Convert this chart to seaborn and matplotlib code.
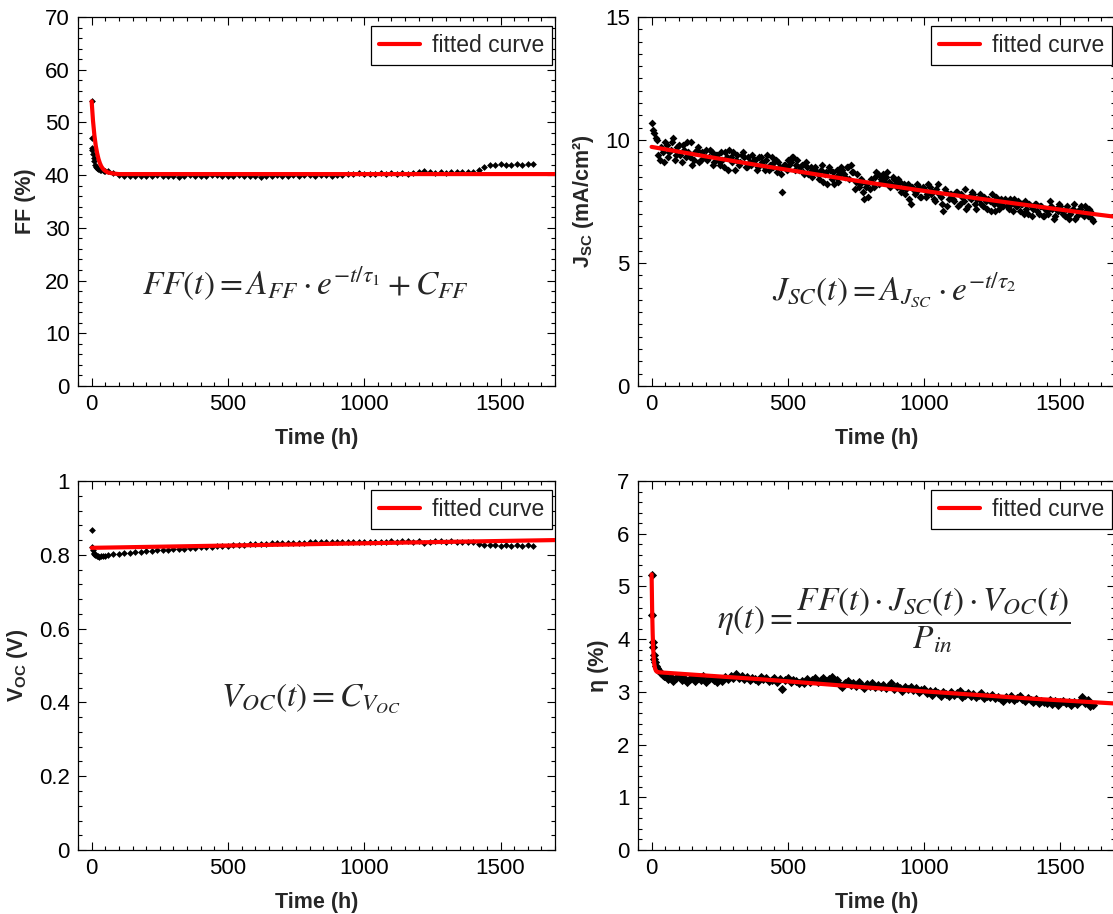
import matplotlib
matplotlib.use('Agg')
import matplotlib.pyplot as plt
from matplotlib.ticker import MultipleLocator, FormatStrFormatter
import pandas as pd
import seaborn as sns

sns.set_theme(style='white')
plt.rcParams['font.family'] = ['Liberation Sans', 'DejaVu Sans']
plt.rcParams['mathtext.fontset'] = 'custom'
plt.rcParams['mathtext.rm'] = 'Liberation Sans'
plt.rcParams['mathtext.bf'] = 'Liberation Sans:bold'
plt.rcParams['mathtext.it'] = 'Liberation Sans:italic'

# ---------------- data ----------------
# FF (%)
ff_hours = [0, 1, 2, 3, 5, 7, 10, 13, 16, 20, 25, 30, 35, 40, 45, 50] + list(range(60, 1621, 20))
ff_vals = [54.0, 47.0, 45.2, 44.8, 44.0, 43.2, 42.6, 42.0, 41.6, 41.3, 41.1, 41.0, 40.9, 40.9, 40.8, 40.8,
           40.7, 40.4, 40.0, 39.9, 39.8, 39.9, 39.9, 39.8, 39.9, 40.0,
           39.8, 39.9, 39.9, 39.7, 39.9, 40.0, 39.9, 39.8, 39.9, 40.0,
           40.1, 39.9, 39.8, 39.9, 40.0, 39.8, 39.9, 39.9, 39.7, 39.8,
           39.9, 40.0, 39.9, 39.9, 40.0, 39.9, 40.0, 40.0, 39.9, 40.0,
           40.1, 39.9, 40.0, 40.1, 40.2, 40.3, 40.4, 40.3, 40.2, 40.3,
           40.4, 40.3, 40.4, 40.3, 40.4, 40.3, 40.4, 40.5, 40.8, 40.6,
           40.4, 40.5, 40.4, 40.5, 40.6, 40.5, 40.6, 40.6, 41.0, 41.6,
           42.0, 41.9, 42.1, 42.0, 41.9, 42.1, 42.0, 42.1, 42.2]
ff_fit_hours = [0, 5, 10, 15, 20, 25, 30, 35, 40, 45, 50, 60, 70, 80, 100, 1700]
ff_fit_vals = [54.0, 50.3, 47.6, 45.6, 44.2, 43.1, 42.3, 41.7, 41.3, 41.0, 40.8, 40.5, 40.4, 40.3, 40.2, 40.2]

# Jsc (mA/cm2), two readings per 10 h
jsc_hours = list(range(0, 1621, 10)) + list(range(5, 1616, 10))
jsc_vals = [10.7, 10.3, 10.0, 9.2, 9.5, 9.9, 9.3, 9.6, 10.1, 9.4,
            9.8, 9.1, 9.6, 9.9, 9.3, 9.0, 9.5, 9.7, 9.2, 9.4,
            9.6, 9.3, 9.5, 9.1, 9.4, 9.0, 9.2, 9.5, 8.8, 9.3,
            9.5, 9.2, 9.0, 9.4, 9.3, 8.9, 9.1, 9.4, 9.2, 8.9,
            9.3, 9.0, 9.2, 8.8, 9.3, 9.1, 8.7, 8.9, 7.9, 9.0,
            9.2, 9.1, 9.3, 9.0, 8.8, 9.0, 8.6, 8.9, 8.7, 8.5,
            8.9, 8.6, 8.8, 8.3, 8.7, 8.9, 8.4, 8.2, 8.8, 8.6,
            8.8, 8.5, 8.9, 9.0, 8.7, 8.3, 8.1, 8.4, 7.6, 8.2,
            8.0, 8.3, 8.5, 8.6, 8.4, 8.6, 8.5, 8.3, 8.2, 8.4,
            8.1, 8.3, 8.0, 7.8, 8.2, 7.4, 8.0, 7.9, 8.1, 7.7,
            8.0, 7.8, 8.1, 7.9, 7.5, 8.2, 7.7, 7.1, 7.9, 7.6,
            7.8, 7.5, 7.9, 7.4, 7.7, 8.0, 7.3, 7.6, 7.8, 7.2,
            7.6, 7.4, 7.7, 7.2, 7.5, 7.8, 7.1, 7.4, 7.6, 7.3,
            7.5, 7.2, 7.4, 7.6, 7.3, 7.1, 7.4, 7.5, 7.0, 7.3,
            7.2, 7.4, 7.0, 7.3, 6.9, 7.1, 7.5, 7.2, 6.9, 7.1,
            7.3, 7.0, 7.2, 6.8, 7.1, 7.4, 6.9, 7.2, 7.0, 7.3,
            6.9, 7.1, 6.7,
            # second reading, 5 h offset
            10.4, 10.1, 9.4, 9.7, 9.1, 9.8, 9.5, 9.9, 9.2, 9.7,
            9.4, 9.8, 9.3, 9.5, 9.9, 9.2, 9.6, 9.1, 9.5, 9.3,
            9.2, 9.6, 9.0, 9.4, 9.2, 9.5, 8.9, 9.3, 9.6, 9.1,
            8.8, 9.4, 9.1, 9.5, 8.9, 9.3, 9.0, 9.2, 8.8, 9.3,
            9.1, 8.8, 9.4, 9.0, 8.9, 9.2, 9.1, 8.6, 9.0, 8.8,
            9.0, 9.3, 8.8, 9.2, 8.9, 8.7, 9.1, 8.6, 8.9, 8.8,
            8.7, 8.4, 9.0, 8.6, 8.2, 8.8, 8.7, 8.5, 8.3, 8.9,
            8.6, 8.9, 8.4, 8.7, 8.0, 8.6, 8.2, 7.9, 8.1, 7.7,
            8.4, 8.1, 8.7, 8.2, 8.5, 8.3, 8.7, 8.1, 8.5, 8.2,
            8.4, 7.9, 8.2, 8.0, 7.6, 8.1, 7.8, 8.2, 7.7, 8.1,
            7.7, 8.2, 7.8, 7.6, 8.0, 7.8, 7.4, 8.0, 7.3, 7.8,
            7.6, 7.9, 7.3, 7.8, 7.5, 7.2, 7.7, 7.9, 7.4, 7.6,
            7.8, 7.3, 7.5, 7.6, 7.1, 7.4, 7.7, 7.2, 7.5, 7.6,
            7.3, 7.6, 7.1, 7.3, 7.5, 7.4, 7.0, 7.2, 7.4, 6.9,
            7.4, 7.1, 7.3, 6.9, 7.2, 7.0, 7.3, 6.8, 7.2, 7.4,
            7.1, 6.9, 7.3, 7.0, 7.2, 6.8, 7.1, 7.3, 6.9, 7.1,
            7.2, 6.8]
jsc_fit_hours = [0, 200, 400, 600, 800, 1000, 1200, 1400, 1600, 1700]
jsc_fit_vals = [9.72, 9.33, 8.96, 8.61, 8.26, 7.93, 7.62, 7.32, 7.02, 6.88]

# Voc (V)
voc_hours = [0, 2, 4, 7, 10, 14, 18, 23, 28, 34, 40, 50] + list(range(60, 1621, 20))
voc_vals = [0.866, 0.822, 0.812, 0.806, 0.802, 0.799, 0.797, 0.796, 0.795, 0.796, 0.797, 0.798,
            0.799, 0.801, 0.803, 0.804, 0.806, 0.807, 0.808, 0.810, 0.811, 0.812,
            0.813, 0.814, 0.815, 0.816, 0.817, 0.818, 0.819, 0.820, 0.821, 0.822,
            0.823, 0.824, 0.825, 0.826, 0.827, 0.828, 0.829, 0.829, 0.830, 0.830,
            0.831, 0.831, 0.832, 0.832, 0.833, 0.833, 0.833, 0.834, 0.834, 0.834,
            0.834, 0.835, 0.835, 0.835, 0.835, 0.835, 0.836, 0.835, 0.836, 0.836,
            0.836, 0.836, 0.837, 0.836, 0.837, 0.837, 0.836, 0.837, 0.832, 0.835,
            0.837, 0.837, 0.836, 0.837, 0.836, 0.836, 0.836, 0.835, 0.829, 0.827,
            0.826, 0.826, 0.825, 0.826, 0.825, 0.826, 0.825, 0.826, 0.825]
voc_fit_hours = [0, 1700]
voc_fit_vals = [0.819, 0.840]

# efficiency (%)
eta_hours = [0, 2, 4, 6, 8, 10, 13, 16, 20, 25, 30, 35, 40, 45] + list(range(50, 1621, 10))
eta_vals = [5.22, 4.45, 3.95, 3.85, 3.70, 3.62, 3.56, 3.50, 3.46, 3.42, 3.38, 3.35, 3.32, 3.30,
            3.30, 3.24, 3.28, 3.20, 3.26, 3.31, 3.22, 3.27, 3.18, 3.25,
            3.29, 3.21, 3.26, 3.23, 3.30, 3.19, 3.24, 3.27, 3.22, 3.18,
            3.25, 3.21, 3.28, 3.24, 3.31, 3.27, 3.33, 3.26, 3.30, 3.24,
            3.28, 3.22, 3.27, 3.25, 3.21, 3.29, 3.24, 3.26, 3.20, 3.23,
            3.26, 3.19, 3.24, 3.05, 3.22, 3.27, 3.18, 3.23, 3.20, 3.16,
            3.21, 3.17, 3.24, 3.19, 3.22, 3.26, 3.18, 3.23, 3.27, 3.20,
            3.24, 3.28, 3.19, 3.22, 3.14, 3.10, 3.17, 3.20, 3.13, 3.16,
            3.11, 3.18, 3.14, 3.08, 3.15, 3.12, 3.17, 3.09, 3.13, 3.10,
            3.14, 3.07, 3.11, 3.16, 3.05, 3.12, 3.08, 3.02, 3.09, 3.06,
            3.10, 3.04, 3.07, 2.99, 3.03, 3.06, 2.97, 3.01, 2.95, 3.02,
            2.98, 2.93, 3.00, 2.96, 2.92, 2.99, 2.94, 2.97, 3.01, 2.91,
            2.95, 2.98, 2.92, 2.96, 2.90, 2.94, 2.97, 2.89, 2.93, 2.91,
            2.94, 2.88, 2.91, 2.86, 2.83, 2.90, 2.87, 2.92, 2.85, 2.89,
            2.93, 2.86, 2.82, 2.88, 2.84, 2.80, 2.86, 2.78, 2.83, 2.81,
            2.79, 2.84, 2.77, 2.82, 2.75, 2.80, 2.83, 2.78, 2.81, 2.76,
            2.80, 2.77, 2.83, 2.91, 2.79, 2.85, 2.74, 2.76]
eta_fit_hours = [0, 2, 4, 6, 8, 10, 13, 16, 20, 30, 60, 200, 400, 600, 800, 1000, 1200, 1400, 1600, 1700]
eta_fit_vals = [5.23, 4.55, 4.10, 3.80, 3.62, 3.52, 3.44, 3.40, 3.38, 3.37, 3.36,
                3.31, 3.24, 3.16, 3.08, 3.01, 2.94, 2.87, 2.81, 2.78]

fig = plt.figure(figsize=(11.13, 9.14), dpi=100)

panels = [
    dict(rect=[0.0701, 0.5777, 0.4286, 0.4037], h=ff_hours, v=ff_vals, fh=ff_fit_hours, fv=ff_fit_vals,
         ylim=(0, 70), major=10, minor=2, ylabel='FF (%)', size=12,
         formula=r'$FF(t) = A_{FF}\cdot e^{-t/\tau_1} + C_{FF}$', fxy=(785, 19.3)),
    dict(rect=[0.5732, 0.5777, 0.4286, 0.4037], h=jsc_hours, v=jsc_vals, fh=jsc_fit_hours, fv=jsc_fit_vals,
         ylim=(0, 15), major=5, minor=0.5, ylabel=r'$\mathbf{J_{SC}}$ (mA/cm²)', size=16,
         formula=r'$J_{SC}(t) = A_{J_{SC}}\cdot e^{-t/\tau_2}$', fxy=(890, 3.9)),
    dict(rect=[0.0701, 0.0700, 0.4286, 0.4037], h=voc_hours, v=voc_vals, fh=voc_fit_hours, fv=voc_fit_vals,
         ylim=(0, 1), major=0.2, minor=0.04, ylabel=r'$\mathbf{V_{OC}}$ (V)', size=12,
         formula=r'$V_{OC}(t) = C_{V_{OC}}$', fxy=(805, 0.41)),
    dict(rect=[0.5732, 0.0700, 0.4286, 0.4037], h=eta_hours, v=eta_vals, fh=eta_fit_hours, fv=eta_fit_vals,
         ylim=(0, 7), major=1, minor=0.2, ylabel='η (%)', size=22,
         formula=r'$\eta(t) = \dfrac{FF(t)\cdot J_{SC}(t)\cdot V_{OC}(t)}{P_{in}}$', fxy=(890, 4.36)),
]

for p in panels:
    ax = fig.add_axes(p['rect'])
    pts = pd.DataFrame({'Time (h)': p['h'], 'value': p['v']})
    fit = pd.DataFrame({'Time (h)': p['fh'], 'value': p['fv']})
    sns.scatterplot(data=pts, x='Time (h)', y='value', ax=ax, marker='D', s=p['size'],
                    color='black', linewidth=0, zorder=2)
    sns.lineplot(data=fit, x='Time (h)', y='value', ax=ax, color='red', linewidth=3,
                 label='fitted curve', zorder=3)
    ax.set_xlim(-50, 1700)
    ax.set_ylim(*p['ylim'])
    ax.xaxis.set_major_locator(MultipleLocator(500))
    ax.xaxis.set_minor_locator(MultipleLocator(50))
    ax.yaxis.set_major_locator(MultipleLocator(p['major']))
    ax.yaxis.set_minor_locator(MultipleLocator(p['minor']))
    ax.yaxis.set_major_formatter(FormatStrFormatter('%g'))
    ax.tick_params(which='both', direction='in', bottom=True, left=True, top=True, right=True,
                   colors='black', labelsize=16, width=0.8)
    ax.tick_params(axis='x', which='major', pad=6)
    ax.tick_params(axis='y', which='major', pad=6)
    ax.tick_params(which='major', length=6)
    ax.tick_params(which='minor', length=3)
    for s in ax.spines.values():
        s.set_color('black')
        s.set_linewidth(0.9)
    ax.set_xlabel('Time (h)', fontsize=15.5, fontweight='bold', labelpad=9)
    ax.set_ylabel(p['ylabel'], fontsize=15.5, fontweight='bold', labelpad=6)
    ax.text(p['fxy'][0], p['fxy'][1], p['formula'], fontsize=24, ha='center', va='center',
            math_fontfamily='stix')
    leg = ax.legend(loc='upper right', bbox_to_anchor=(0.994, 0.975), fontsize=16.5,
                    frameon=True, fancybox=False, framealpha=1, edgecolor='black',
                    handlelength=1.8, borderpad=0.35, handletextpad=0.5, borderaxespad=0)
    leg.get_frame().set_linewidth(0.9)

fig.savefig('out.png', dpi=100)
